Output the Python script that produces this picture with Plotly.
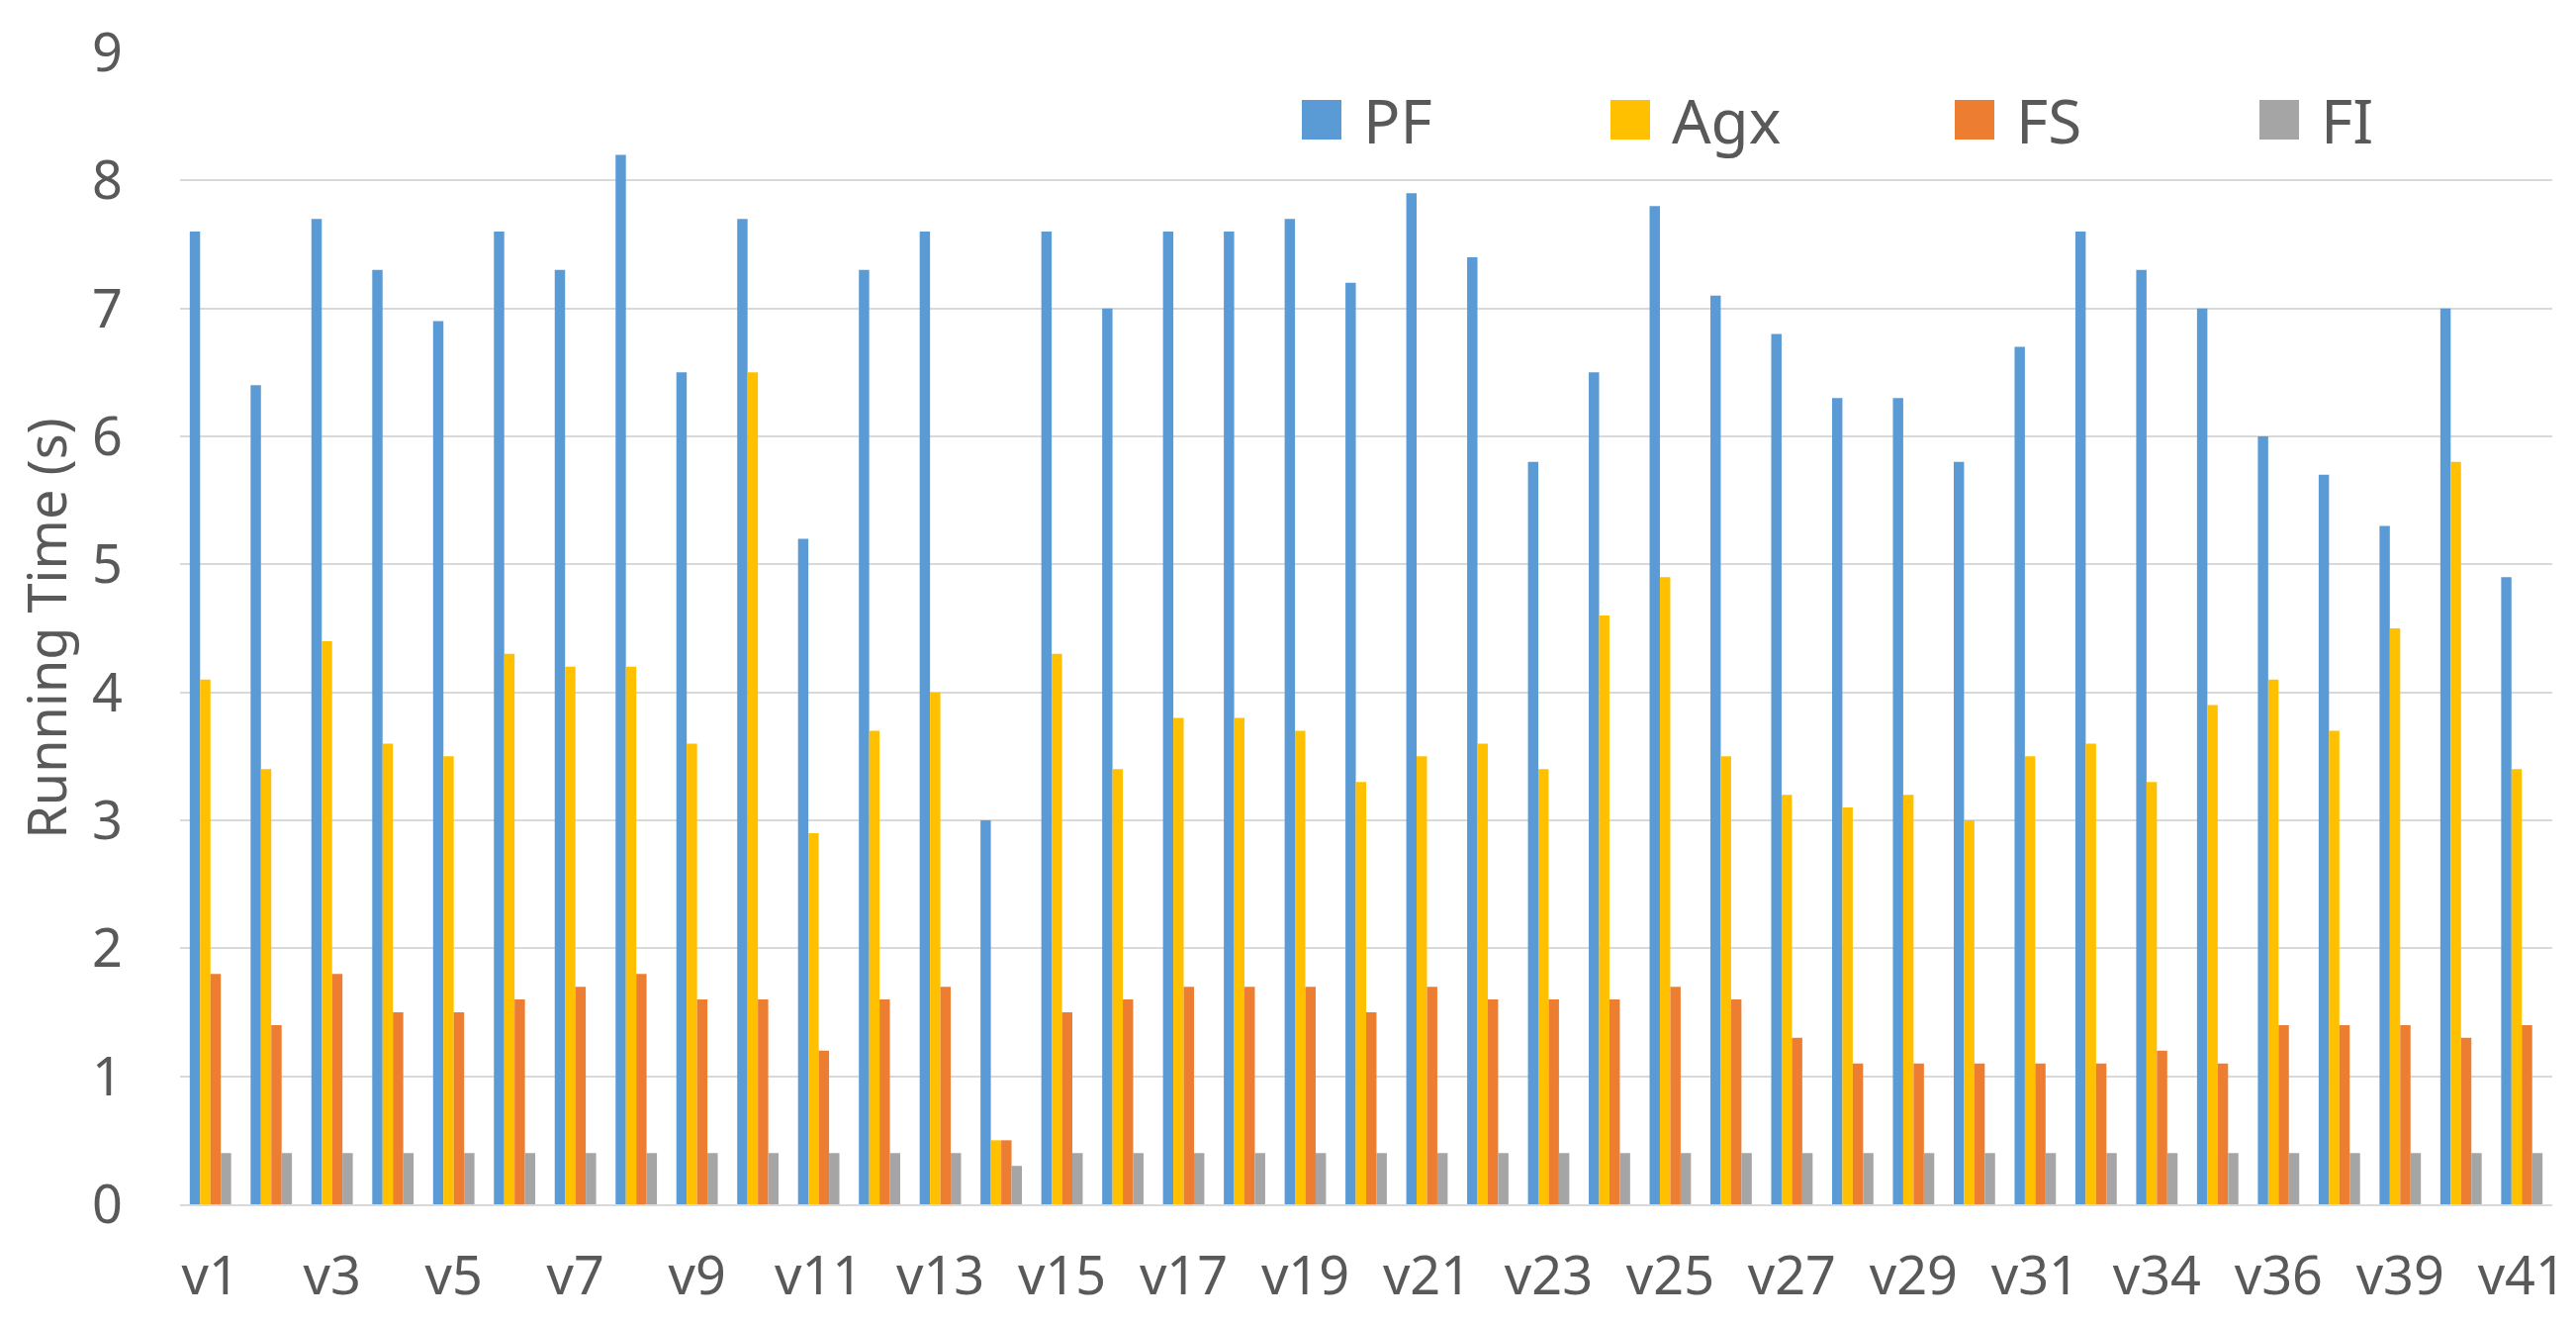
import plotly.graph_objects as go

categories = ["v1", "v2", "v3", "v4", "v5", "v6", "v7", "v8", "v9", "v10",
              "v11", "v12", "v13", "v14", "v15", "v16", "v17", "v18", "v19", "v20",
              "v21", "v22", "v23", "v24", "v25", "v26", "v27", "v28", "v29", "v30",
              "v31", "v32", "v34", "v35", "v36", "v37", "v39", "v40", "v41"]
tick_labels = ["v1", "v3", "v5", "v7", "v9", "v11", "v13", "v15", "v17", "v19",
               "v21", "v23", "v25", "v27", "v29", "v31", "v34", "v36", "v39", "v41"]

pf = [7.6, 6.4, 7.7, 7.3, 6.9, 7.6, 7.3, 8.2, 6.5, 7.7,
      5.2, 7.3, 7.6, 3.0, 7.6, 7.0, 7.6, 7.6, 7.7, 7.2,
      7.9, 7.4, 5.8, 6.5, 7.8, 7.1, 6.8, 6.3, 6.3, 5.8,
      6.7, 7.6, 7.3, 7.0, 6.0, 5.7, 5.3, 7.0, 4.9]
agx = [4.1, 3.4, 4.4, 3.6, 3.5, 4.3, 4.2, 4.2, 3.6, 6.5,
       2.9, 3.7, 4.0, 0.5, 4.3, 3.4, 3.8, 3.8, 3.7, 3.3,
       3.5, 3.6, 3.4, 4.6, 4.9, 3.5, 3.2, 3.1, 3.2, 3.0,
       3.5, 3.6, 3.3, 3.9, 4.1, 3.7, 4.5, 5.8, 3.4]
fs = [1.8, 1.4, 1.8, 1.5, 1.5, 1.6, 1.7, 1.8, 1.6, 1.6,
      1.2, 1.6, 1.7, 0.5, 1.5, 1.6, 1.7, 1.7, 1.7, 1.5,
      1.7, 1.6, 1.6, 1.6, 1.7, 1.6, 1.3, 1.1, 1.1, 1.1,
      1.1, 1.1, 1.2, 1.1, 1.4, 1.4, 1.4, 1.3, 1.4]
fi = [0.4, 0.4, 0.4, 0.4, 0.4, 0.4, 0.4, 0.4, 0.4, 0.4,
      0.4, 0.4, 0.4, 0.3, 0.4, 0.4, 0.4, 0.4, 0.4, 0.4,
      0.4, 0.4, 0.4, 0.4, 0.4, 0.4, 0.4, 0.4, 0.4, 0.4,
      0.4, 0.4, 0.4, 0.4, 0.4, 0.4, 0.4, 0.4, 0.4]

series_names = ["PF", "Agx", "FS", "FI"]
series_values = [pf, agx, fs, fi]
series_colors = ["#5B9BD5", "#FFC000", "#ED7D31", "#A5A5A5"]

FONT = "Noto Sans"
TEXT_COLOR = "#595959"
GRID = "#D9D9D9"

fig = go.Figure()
for name, vals, col in zip(series_names, series_values, series_colors):
    fig.add_trace(go.Bar(x=categories, y=vals, name=name,
                         marker=dict(color=col, line=dict(width=0)),
                         showlegend=False))

# manual legend (large square swatches like the original)
W, H = 2604, 1338
L, R, T, B = 174, 32, 45, 129
pw, ph = W - L - R, H - T - B
legend_left_px = [1308, 1620, 1968, 2276]
sw = 40
sy_top, sy_bot = 93, 133
shapes = []
annotations = []
for name, col, lx in zip(series_names, series_colors, legend_left_px):
    x0 = (lx - L) / pw
    x1 = (lx + sw - L) / pw
    y0 = (H - B - sy_bot) / ph
    y1 = (H - B - sy_top) / ph
    shapes.append(dict(type="rect", xref="paper", yref="paper",
                       x0=x0, x1=x1, y0=y0, y1=y1,
                       fillcolor=col, line=dict(width=0), layer="above"))
    annotations.append(dict(xref="paper", yref="paper",
                            x=(lx + sw + 20 - L) / pw,
                            y=(H - B - (sy_top + sy_bot) / 2) / ph,
                            xanchor="left", yanchor="middle", showarrow=False,
                            text=name, font=dict(family=FONT, size=62, color=TEXT_COLOR)))

fig.update_layout(
    width=W, height=H,
    margin=dict(l=L, r=R, t=T, b=B, autoexpand=False),
    paper_bgcolor="white", plot_bgcolor="white",
    barmode="group", bargap=0.32, bargroupgap=0.0,
    font=dict(family=FONT, color=TEXT_COLOR, size=54),
    shapes=shapes, annotations=annotations,
    showlegend=False,
)
fig.update_xaxes(
    type="category", categoryorder="array", categoryarray=categories,
    tickmode="array", tickvals=tick_labels, ticktext=tick_labels,
    tickfont=dict(family=FONT, size=54, color=TEXT_COLOR),
    showgrid=False, showline=True, linecolor=GRID, linewidth=2,
    ticks="", ticklabelstandoff=24, automargin=False,
)
fig.update_yaxes(
    range=[0, 9], dtick=1, tick0=0,
    showgrid=True, gridcolor=GRID, gridwidth=2,
    zeroline=False, showline=False, ticks="",
    tickfont=dict(family=FONT, size=54, color=TEXT_COLOR),
    ticklabelstandoff=57, automargin=False,
    title=dict(text="Running Time (s)", font=dict(family=FONT, size=54, color=TEXT_COLOR),
               standoff=8),
)

fig.write_html("out.html")
